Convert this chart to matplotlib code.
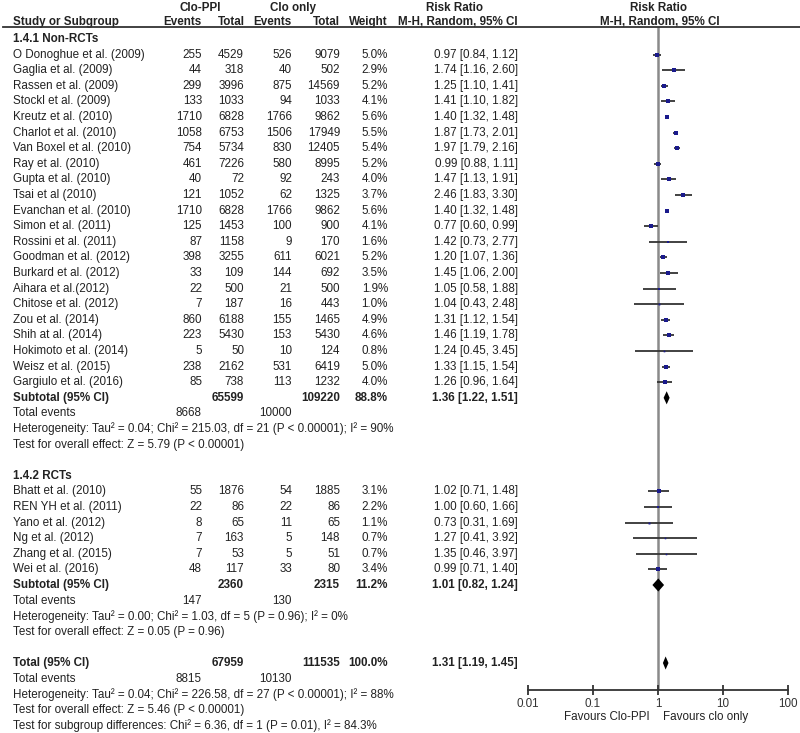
import numpy as np
import matplotlib
matplotlib.use('Agg')
import matplotlib.pyplot as plt
from matplotlib import transforms
from matplotlib.lines import Line2D

plt.rcParams['font.family'] = ['Liberation Sans', 'DejaVu Sans']

# --- data ---
nonrct_names = ["O Donoghue et al. (2009)", "Gaglia et al. (2009)", "Rassen et al. (2009)",
                "Stockl et al. (2009)", "Kreutz et al. (2010)", "Charlot et al. (2010)",
                "Van Boxel et al. (2010)", "Ray et al. (2010)", "Gupta et al. (2010)",
                "Tsai et al (2010)", "Evanchan et al. (2010)", "Simon et al. (2011)",
                "Rossini et al. (2011)", "Goodman et al. (2012)", "Burkard et al. (2012)",
                "Aihara et al.(2012)", "Chitose et al. (2012)", "Zou et al. (2014)",
                "Shih at al. (2014)", "Hokimoto et al. (2014)", "Weisz et al. (2015)",
                "Gargiulo et al. (2016)"]
nonrct_e1 = [255, 44, 299, 133, 1710, 1058, 754, 461, 40, 121, 1710, 125, 87, 398, 33, 22, 7, 860, 223, 5, 238, 85]
nonrct_n1 = [4529, 318, 3996, 1033, 6828, 6753, 5734, 7226, 72, 1052, 6828, 1453, 1158, 3255, 109, 500, 187, 6188, 5430, 50, 2162, 738]
nonrct_e2 = [526, 40, 875, 94, 1766, 1506, 830, 580, 92, 62, 1766, 100, 9, 611, 144, 21, 16, 155, 153, 10, 531, 113]
nonrct_n2 = [9079, 502, 14569, 1033, 9862, 17949, 12405, 8995, 243, 1325, 9862, 900, 170, 6021, 692, 500, 443, 1465, 5430, 124, 6419, 1232]
nonrct_w = [5.0, 2.9, 5.2, 4.1, 5.6, 5.5, 5.4, 5.2, 4.0, 3.7, 5.6, 4.1, 1.6, 5.2, 3.5, 1.9, 1.0, 4.9, 4.6, 0.8, 5.0, 4.0]
nonrct_rr = [0.97, 1.74, 1.25, 1.41, 1.40, 1.87, 1.97, 0.99, 1.47, 2.46, 1.40, 0.77, 1.42, 1.20, 1.45, 1.05, 1.04, 1.31, 1.46, 1.24, 1.33, 1.26]
nonrct_lo = [0.84, 1.16, 1.10, 1.10, 1.32, 1.73, 1.79, 0.88, 1.13, 1.83, 1.32, 0.60, 0.73, 1.07, 1.06, 0.58, 0.43, 1.12, 1.19, 0.45, 1.15, 0.96]
nonrct_hi = [1.12, 2.60, 1.41, 1.82, 1.48, 2.01, 2.16, 1.11, 1.91, 3.30, 1.48, 0.99, 2.77, 1.36, 2.00, 1.88, 2.48, 1.54, 1.78, 3.45, 1.54, 1.64]

rct_names = ["Bhatt et al. (2010)", "REN YH et al. (2011)", "Yano et al. (2012)",
             "Ng et al. (2012)", "Zhang et al. (2015)", "Wei et al. (2016)"]
rct_e1 = [55, 22, 8, 7, 7, 48]
rct_n1 = [1876, 86, 65, 163, 53, 117]
rct_e2 = [54, 22, 11, 5, 5, 33]
rct_n2 = [1885, 86, 65, 148, 51, 80]
rct_w = [3.1, 2.2, 1.1, 0.7, 0.7, 3.4]
rct_rr = [1.02, 1.00, 0.73, 1.27, 1.35, 0.99]
rct_lo = [0.71, 0.60, 0.31, 0.41, 0.46, 0.71]
rct_hi = [1.48, 1.66, 1.69, 3.92, 3.97, 1.40]

# subtotal / total summaries: (n1, n2, weight, rr, lo, hi, events1, events2)
sub_nonrct = (65599, 109220, 88.8, 1.36, 1.22, 1.51, 8668, 10000)
sub_rct = (2360, 2315, 11.2, 1.01, 0.82, 1.24, 147, 130)
overall = (67959, 111535, 100.0, 1.31, 1.19, 1.45, 8815, 10130)

het_nonrct = "Heterogeneity: Tau² = 0.04; Chi² = 215.03, df = 21 (P < 0.00001); I² = 90%"
eff_nonrct = "Test for overall effect: Z = 5.79 (P < 0.00001)"
het_rct = "Heterogeneity: Tau² = 0.00; Chi² = 1.03, df = 5 (P = 0.96); I² = 0%"
eff_rct = "Test for overall effect: Z = 0.05 (P = 0.96)"
het_all = "Heterogeneity: Tau² = 0.04; Chi² = 226.58, df = 27 (P < 0.00001); I² = 88%"
eff_all = "Test for overall effect: Z = 5.46 (P < 0.00001)"
sub_diff = "Test for subgroup differences: Chi² = 6.36, df = 1 (P = 0.01), I² = 84.3%"

# --- layout (pixels) ---
W, H = 800, 733
row0_px, row_px = 39, 15.6
top_px, axis_px = 27, 690
fx0, fx1 = 528, 788
fs = 8.4

def px_to_row(p):
    return (p - row0_px) / row_px

fig = plt.figure(figsize=(W / 100, H / 100), dpi=100)
ax = fig.add_axes([fx0 / W, 1 - axis_px / H, (fx1 - fx0) / W, (axis_px - top_px) / H])
ax.set_xscale('log')
ax.set_xlim(0.01, 100)
ax.set_ylim(px_to_row(axis_px), px_to_row(top_px))
for s in ['top', 'left', 'right']:
    ax.spines[s].set_visible(False)
ax.spines['bottom'].set_color('#333333')
ax.spines['bottom'].set_linewidth(1.3)
ax.set_yticks([])
ax.set_xticks([0.01, 0.1, 1, 10, 100])
ax.set_xticklabels(['0.01', '0.1', '1', '10', '100'])
ax.xaxis.set_minor_locator(matplotlib.ticker.NullLocator())
ax.tick_params(axis='x', direction='inout', length=7, width=1.3, color='#333333',
               labelsize=fs, labelcolor='#333333', pad=2)
ax.axvline(1, color='#8a8a8a', lw=1.8, zorder=1)

tc = '#222222'
# x in pixels, y in row units
trans = transforms.blended_transform_factory(
    transforms.Affine2D().scale(1.0 / W, 1.0) + fig.transFigure, ax.transData)

def txt(x, r, s, ha='left', bold=False):
    ax.text(x, r, s, transform=trans, ha=ha, va='center', fontsize=fs, color=tc,
            fontweight='bold' if bold else 'normal', clip_on=False)

# column positions (right edges)
c_name, c_e1, c_n1, c_e2, c_n2, c_w, c_rr = 13, 202, 244, 292, 340, 388, 518

# header
r_h1, r_h2 = px_to_row(8), px_to_row(22)
txt(200, r_h1, "Clo-PPI", ha='center', bold=True)
txt(293, r_h1, "Clo only", ha='center', bold=True)
txt(455, r_h1, "Risk Ratio", ha='center', bold=True)
txt(658, r_h1, "Risk Ratio", ha='center', bold=True)
txt(c_name, r_h2, "Study or Subgroup", bold=True)
txt(c_e1, r_h2, "Events", ha='right', bold=True)
txt(c_n1 + 1, r_h2, "Total", ha='right', bold=True)
txt(c_e2, r_h2, "Events", ha='right', bold=True)
txt(c_n2, r_h2, "Total", ha='right', bold=True)
txt(c_w, r_h2, "Weight", ha='right', bold=True)
txt(c_rr, r_h2, "M-H, Random, 95% CI", ha='right', bold=True)
txt(660, r_h2, "M-H, Random, 95% CI", ha='center', bold=True)
fig.add_artist(Line2D([3 / W, 1.0], [1 - top_px / H] * 2, color='#333333', lw=1.3))


def study_block(r_start, names, e1, n1, e2, n2, w, rr, lo, hi):
    for i in range(len(names)):
        r = r_start + i
        txt(c_name, r, names[i])
        txt(c_e1, r, str(e1[i]), ha='right')
        txt(c_n1, r, str(n1[i]), ha='right')
        txt(c_e2, r, str(e2[i]), ha='right')
        txt(c_n2, r, str(n2[i]), ha='right')
        txt(c_w, r, f"{w[i]:.1f}%", ha='right')
        txt(c_rr, r, f"{rr[i]:.2f} [{lo[i]:.2f}, {hi[i]:.2f}]", ha='right')
        ax.plot([lo[i], hi[i]], [r, r], color='#333333', lw=1.3, zorder=2, solid_capstyle='butt')
        ax.plot(rr[i], r, marker='s', color='#1a1a8c', ms=np.sqrt(w[i]) * 1.35,
                mew=0, zorder=3)


def summary_block(r, label, summ, het, eff):
    n1, n2, w, rr, lo, hi, ev1, ev2 = summ
    txt(c_name, r, label, bold=True)
    txt(c_n1, r, str(n1), ha='right', bold=True)
    txt(c_n2, r, str(n2), ha='right', bold=True)
    txt(c_w, r, f"{w:.1f}%", ha='right', bold=True)
    txt(c_rr, r, f"{rr:.2f} [{lo:.2f}, {hi:.2f}]", ha='right', bold=True)
    hh = 0.42
    ax.fill([lo, rr, hi, rr], [r, r - hh, r, r + hh], color='black', lw=0, zorder=3)
    txt(c_name, r + 1, "Total events")
    txt(c_e1, r + 1, str(ev1), ha='right')
    txt(c_e2, r + 1, str(ev2), ha='right')
    txt(c_name, r + 2, het)
    txt(c_name, r + 3, eff)


txt(c_name, 0, "1.4.1 Non-RCTs", bold=True)
study_block(1, nonrct_names, nonrct_e1, nonrct_n1, nonrct_e2, nonrct_n2,
            nonrct_w, nonrct_rr, nonrct_lo, nonrct_hi)
summary_block(23, "Subtotal (95% CI)", sub_nonrct, het_nonrct, eff_nonrct)

txt(c_name, 28, "1.4.2 RCTs", bold=True)
study_block(29, rct_names, rct_e1, rct_n1, rct_e2, rct_n2,
            rct_w, rct_rr, rct_lo, rct_hi)
summary_block(35, "Subtotal (95% CI)", sub_rct, het_rct, eff_rct)

summary_block(40, "Total (95% CI)", overall, het_all, eff_all)
txt(c_name, 44, sub_diff)

# favours labels
r_fav = px_to_row(717)
txt(650, r_fav, "Favours Clo-PPI", ha='right')
txt(663, r_fav, "Favours clo only", ha='left')

fig.savefig('out.png', dpi=100, facecolor='white')
